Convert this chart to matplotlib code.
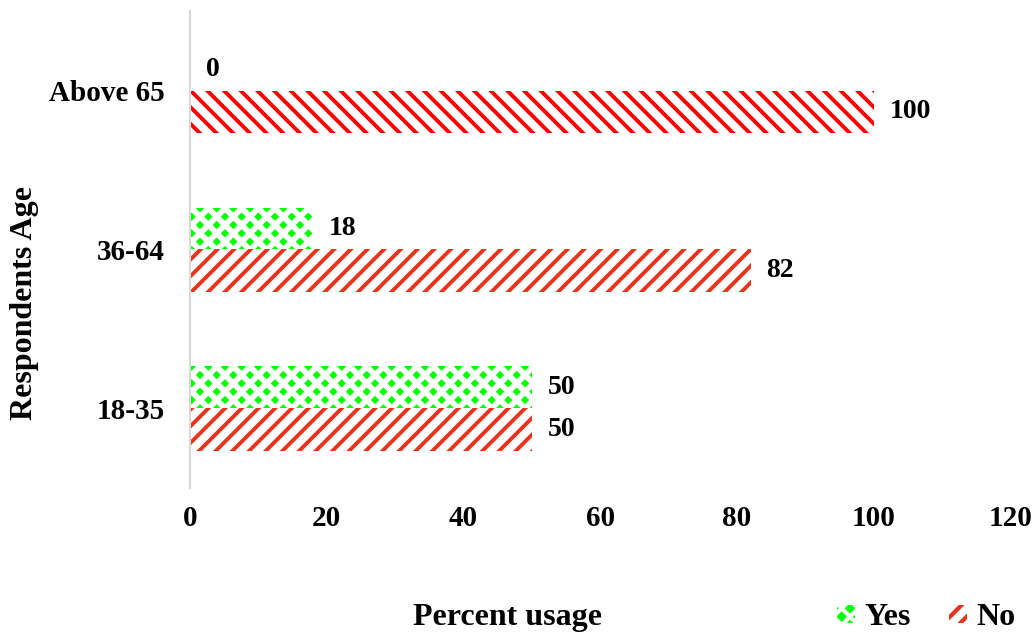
import numpy as np
import matplotlib
matplotlib.use("Agg")
import matplotlib.pyplot as plt
from matplotlib.patches import Patch

# Share of respondents using the service, by age group (percent)
ages = ["18-35", "36-64", "Above 65"]
yes_pct = [50, 18, 0]
no_pct = [50, 82, 100]

GREEN = "#00ff00"
RED_SOFT = "#e8341c"
RED = "#ff0000"

plt.rcParams["font.family"] = ["Liberation Serif", "DejaVu Serif"]
plt.rcParams["font.weight"] = "bold"
plt.rcParams["hatch.linewidth"] = 3.0


def hatch_width(patches, lw):
    for p in patches:
        if hasattr(p, "set_hatch_linewidth"):
            p.set_hatch_linewidth(lw)


fig = plt.figure(figsize=(10.33, 6.35), dpi=100)
ax = fig.add_axes([0.184, 0.2315, 0.794, 0.751])

y = np.arange(len(ages))
h = 0.265
off = 0.132

# Yes bars: green face, white cross hatch leaves diamond tiles
yes_bars = ax.barh(y + off, yes_pct, height=h, color=GREEN, edgecolor="white",
                   hatch="xx", linewidth=0)
hatch_width(yes_bars, 4.2)

# No bars: diagonal stripes, the oldest group drawn with the opposite slant
no_hatch = ["//", "//", "\\\\"]
no_color = [RED_SOFT, RED_SOFT, RED]
for i, v in enumerate(no_pct):
    bars = ax.barh(y[i] - off, v, height=h, color="white", edgecolor=no_color[i],
                   hatch=no_hatch[i], linewidth=0)
    hatch_width(bars, 2.8)

# Value labels
for i in range(len(ages)):
    ax.annotate(f"{yes_pct[i]}", (yes_pct[i], y[i] + off), xytext=(16, 0),
                textcoords="offset pixels",
                va="center", ha="left", fontsize=20, fontweight="bold")
    ax.annotate(f"{no_pct[i]}", (no_pct[i], y[i] - off), xytext=(16, 0),
                textcoords="offset pixels",
                va="center", ha="left", fontsize=20, fontweight="bold")

ax.set_xlim(0, 120)
ax.set_ylim(-0.5, 2.5)
ax.set_xticks(np.arange(0, 121, 20))
ax.set_yticks(y)
ax.set_yticklabels(ages)
ax.tick_params(axis="both", length=0, labelsize=21)
ax.tick_params(axis="x", pad=12)
ax.tick_params(axis="y", pad=18)
for lab in ax.get_xticklabels() + ax.get_yticklabels():
    lab.set_fontweight("bold")

for side in ["top", "right", "bottom"]:
    ax.spines[side].set_visible(False)
ax.spines["left"].set_color("#d9d9d9")
ax.spines["left"].set_linewidth(1.5)

fig.text(0.024, 0.523, "Respondents Age", rotation=90, ha="center", va="center",
         fontsize=23, fontweight="bold")
fig.text(0.491, 0.027, "Percent usage", ha="center", va="center",
         fontsize=23, fontweight="bold")

handles = [Patch(facecolor=GREEN, edgecolor="white", hatch="xx", linewidth=0),
           Patch(facecolor="white", edgecolor=RED_SOFT, hatch="//", linewidth=0)]
hatch_width(handles[:1], 3.0)
fig.legend(handles, ["Yes", "No"], loc="center right",
           bbox_to_anchor=(0.983, 0.027), ncol=2, frameon=False,
           borderaxespad=0, borderpad=0,
           prop={"size": 23, "weight": "bold"},
           handlelength=0.55, handleheight=0.5, handletextpad=0.3,
           columnspacing=1.2)

fig.savefig("out.png", dpi=100)
